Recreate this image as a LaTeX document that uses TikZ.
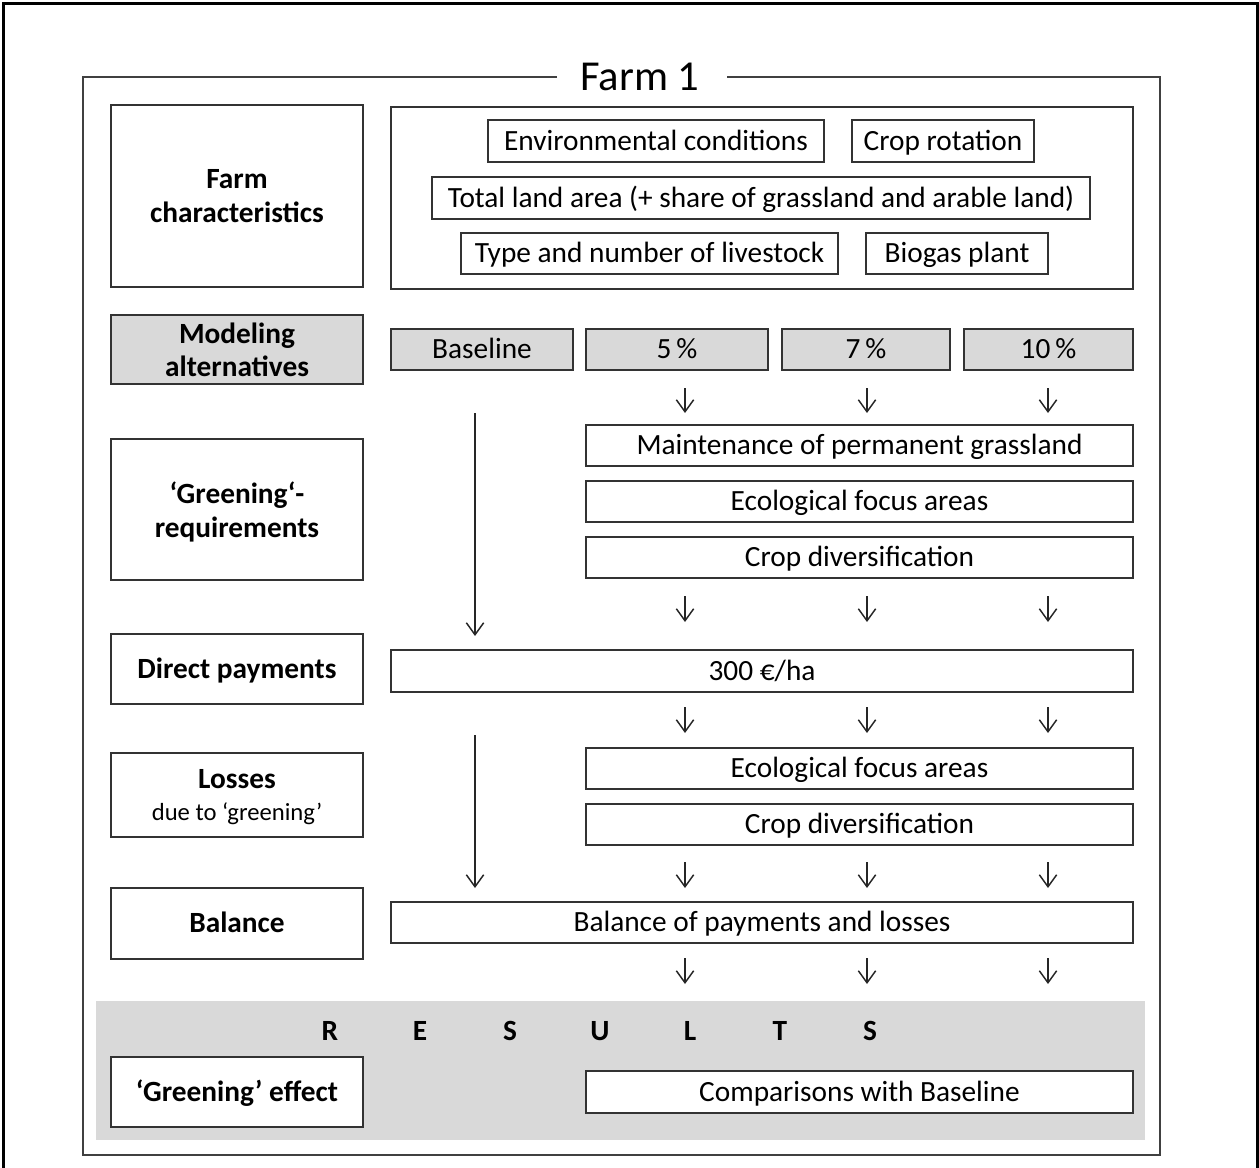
\documentclass[tikz,border=0pt]{standalone}
\usepackage{fontspec}
\setmainfont{Carlito}
\usetikzlibrary{arrows.meta}
\definecolor{bandgray}{HTML}{D9D9D9}
\definecolor{edgecol}{HTML}{333333}
\definecolor{framecol}{HTML}{404040}
\newcommand\pbox[7]{\node[#6, minimum width={(#4-#2)*0.75pt}, minimum height={(#5-#3)*0.75pt}] (#1) at ({(#2+#4)/2},{(#3+#5)/2}) {#7};}
\tikzset{
  basebox/.style={draw=edgecol, line width=1.5pt, inner sep=0pt, fill=white},
  onebox/.style={basebox, text height=14pt, text depth=0pt, font=\fontsize{22}{26}\selectfont},
  boldone/.style={onebox, font=\fontsize{22}{26}\selectfont\bfseries},
  boldtwo/.style={basebox, align=center, text depth=0pt, font=\fontsize{22}{26}\selectfont\bfseries},
  greyfill/.style={fill=bandgray},
  sarrow/.style={-{Straight Barb[length=9pt,width=13pt]}, line width=1.1pt, draw=black!85},
}
\begin{document}
\begin{tikzpicture}[x=0.75pt,y=-0.75pt]
\useasboundingbox (0,0) rectangle (1259,1167);
% outer frame (open at bottom)
\draw[line width=2.25pt, black] (3,1170) -- (3,3) -- (1257,3) -- (1257,1170);
% results band
\fill[bandgray] (96,1001) rectangle (1145,1140);
% title and inner frame
\node[inner sep=0pt, text height=20.6pt, text depth=0pt, font=\fontsize{32}{36}\selectfont] (title) at (640,77) {Farm 1};
\coordinate (gapL) at (557,77);
\coordinate (gapR) at (727,77);
\draw[line width=1.5pt, framecol] (gapL) -- (83,77) -- (83,1155) -- (1160,1155) -- (1160,77) -- (gapR);

% left column
\pbox{fc}{111}{105}{363}{287}{boldtwo}{Farm\\characteristics}
\pbox{ma}{111}{315}{363}{384}{boldtwo, greyfill, font=\fontsize{22}{24.8}\selectfont\bfseries}{Modeling\\alternatives}
\pbox{gr}{111}{439}{363}{580}{boldtwo}{‘Greening‘-\\requirements}
\pbox{dp}{111}{634}{363}{704}{boldone}{Direct payments}
\pbox{lo}{111}{753}{363}{837}{boldtwo, font=\fontsize{22}{24}\selectfont}{\bfseries Losses\\{\fontsize{18.5}{22}\selectfont due to ‘greening’}}
\pbox{ba}{111}{888}{363}{959}{boldone}{Balance}
\pbox{ge}{111}{1057}{363}{1127}{boldone}{‘Greening’ effect}

% farm characteristics
\pbox{fb}{391}{107}{1133}{289}{basebox}{}
\pbox{env}{488}{120}{824}{162}{onebox}{Environmental conditions}
\pbox{cr}{852}{120}{1034}{162}{onebox}{Crop rotation}
\pbox{tl}{432}{177}{1090}{219}{onebox}{Total land area (+ share of grassland and arable land)}
\pbox{tn}{461}{233}{838}{274}{onebox}{Type and number of livestock}
\pbox{bp}{866}{233}{1048}{274}{onebox}{Biogas plant}

% modeling alternatives
\pbox{bl}{391}{329}{573}{370}{onebox, greyfill}{Baseline}
\pbox{p5}{586}{329}{768}{370}{onebox, greyfill}{5\,\%}
\pbox{p7}{782}{329}{950}{370}{onebox, greyfill}{7\,\%}
\pbox{p10}{964}{329}{1133}{370}{onebox, greyfill}{10\,\%}

% greening requirements
\pbox{mp}{586}{425}{1133}{466}{onebox}{Maintenance of permanent grassland}
\pbox{efa}{586}{481}{1133}{522}{onebox}{Ecological focus areas}
\pbox{cdv}{586}{537}{1133}{578}{onebox}{Crop diversification}

% direct payments
\pbox{pay}{391}{650}{1133}{692}{onebox}{300 €/ha}

% losses
\pbox{efb}{586}{748}{1133}{789}{onebox}{Ecological focus areas}
\pbox{cdw}{586}{804}{1133}{845}{onebox}{Crop diversification}

% balance
\pbox{bal}{391}{902}{1133}{943}{onebox}{Balance of payments and losses}

% results
\node[inner sep=0pt, text height=14pt, text depth=0pt, font=\fontsize{22}{26}\selectfont\bfseries] (res) at (600,1031)
  {\makebox[67.5pt]{R}\makebox[67.5pt]{E}\makebox[67.5pt]{S}\makebox[67.5pt]{U}\makebox[67.5pt]{L}\makebox[67.5pt]{T}\makebox[67.5pt]{S}};
\pbox{cmp}{586}{1071}{1133}{1113}{onebox}{Comparisons with Baseline}

% small arrows
\foreach \r/\ya/\yb in {1/388/413, 2/596/622, 3/707/733, 4/862/888, 5/958/984}{
  \foreach \c/\xx in {1/685, 2/867, 3/1048}{
    \coordinate (s\r c\c) at (\xx,\ya);
    \coordinate (e\r c\c) at (\xx,\yb);
    \draw[sarrow] (s\r c\c) -- (e\r c\c);
  }
}
% long arrows from baseline
\coordinate (la1s) at (475,413);
\coordinate (la1e) at (475,636);
\coordinate (la2s) at (475,735);
\coordinate (la2e) at (475,888);
\draw[sarrow] (la1s) -- (la1e);
\draw[sarrow] (la2s) -- (la2e);
\end{tikzpicture}
\end{document}
